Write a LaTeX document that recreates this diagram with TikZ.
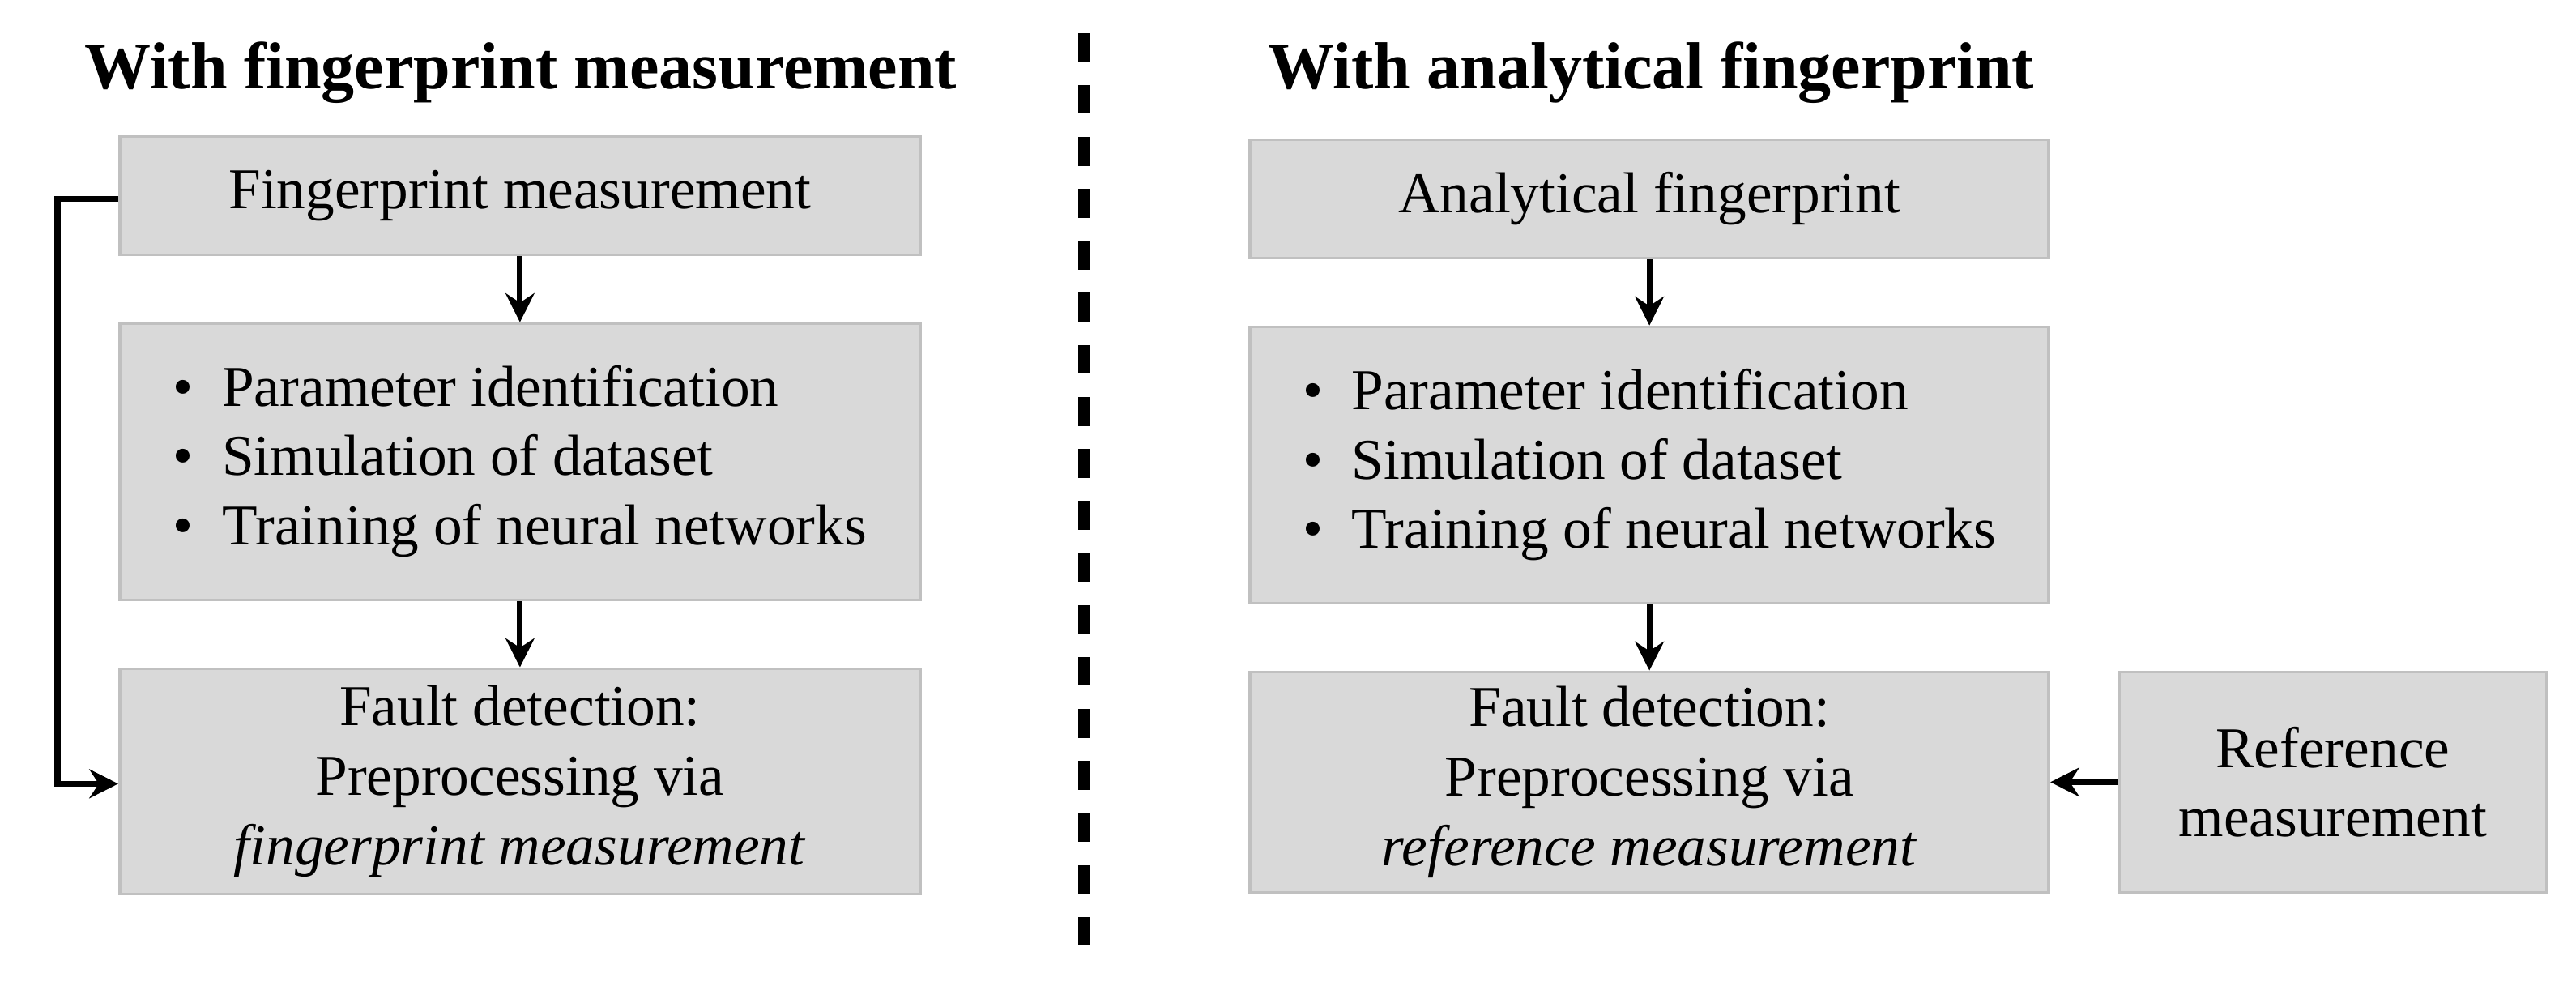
\documentclass[tikz,border=0pt]{standalone}
\usepackage{fontspec}
\setmainfont{Liberation Serif}
\usetikzlibrary{arrows.meta}
\definecolor{boxfill}{HTML}{D9D9D9}
\definecolor{boxline}{HTML}{C0C0C0}
\begin{document}
\begin{tikzpicture}[x=0.01cm,y=-0.01cm,
  box/.style={draw=boxline,fill=boxfill,line width=0.5pt,align=center,inner sep=0pt,font=\fontsize{10}{12}\selectfont},
  title/.style={font=\fontsize{11.5}{14}\selectfont\bfseries},
  arr/.style={-{Stealth[length=5pt,width=5pt]},line width=1pt},
  bl/.style={}]
\useasboundingbox (0,0) rectangle (1568,600);
\newcommand{\bit}[1]{\makebox[0.85em][l]{\textbullet}#1}
\node[title] (t1) at (317,44) {With fingerprint measurement};
\node[title] (t2) at (1005,44) {With analytical fingerprint};
\draw[line width=2pt,dash pattern=on 5pt off 4pt] (660,20) -- (660,578);
% left column
\node[box,minimum width=4.87cm,minimum height=0.72cm] (b1) at (316.5,119) {Fingerprint measurement};
\node[box,minimum width=4.87cm,minimum height=1.68cm] (b2) at (316.5,281) {\begin{tabular}{@{}l@{}}\bit{Parameter identification}\\\bit{Simulation of dataset}\\\bit{Training of neural networks}\end{tabular}};
\node[box,minimum width=4.87cm,minimum height=1.37cm] (b3) at (316.5,475.5) {Fault detection:\\Preprocessing via\\\textit{fingerprint measurement}};
% right column
\node[box,minimum width=4.86cm,minimum height=0.72cm] (b4) at (1004,121) {Analytical fingerprint};
\node[box,minimum width=4.86cm,minimum height=1.68cm] (b5) at (1004,283) {\begin{tabular}{@{}l@{}}\bit{Parameter identification}\\\bit{Simulation of dataset}\\\bit{Training of neural networks}\end{tabular}};
\node[box,minimum width=4.86cm,minimum height=1.34cm] (b6) at (1004,476) {Fault detection:\\Preprocessing via\\\textit{reference measurement}};
\node[box,minimum width=2.6cm,minimum height=1.34cm] (b7) at (1420,476) {Reference\\measurement};
% connectors
\draw[arr] (b1) -- (b2);
\draw[arr] (b2) -- (b3);
\draw[arr] (b4) -- (b5);
\draw[arr] (b5) -- (b6);
\draw[arr] (b7) -- (b6);
\coordinate (c1) at (35,121);
\coordinate (c2) at (35,477);
\draw[arr] (b1.west |- c1) -- (c1) -- (c2) -- (b3.west |- c2);
\end{tikzpicture}
\end{document}
